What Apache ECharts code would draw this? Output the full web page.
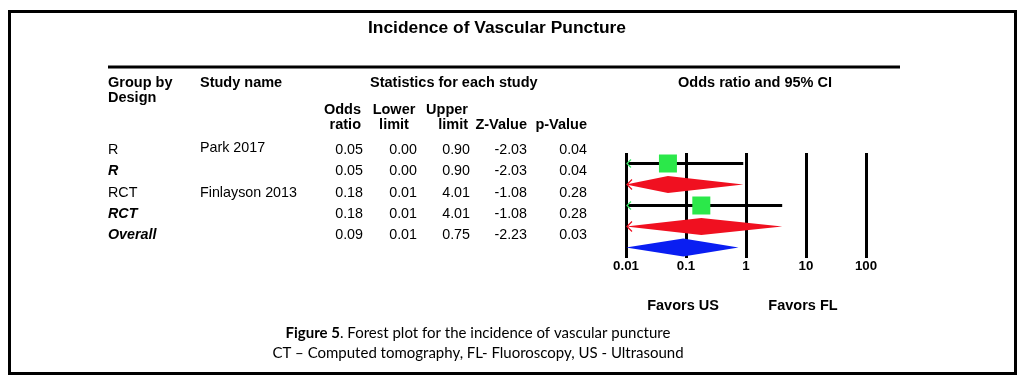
<!DOCTYPE html>
<html>
<head>
<meta charset="utf-8">
<script src="https://cdn.jsdelivr.net/npm/echarts@6/dist/echarts.min.js"></script>
<style>
html,body{margin:0;padding:0;background:#fff;}
#chart{width:1024px;height:384px;}
</style>
</head>
<body>
<div id="chart"></div>
<script>
// ---- data ----
const groupLabels = ['R', 'R', 'RCT', 'RCT', 'Overall'];
const studyNames = ['Park 2017', '', 'Finlayson 2013', '', ''];
const rowKinds = ['study', 'subtotal', 'study', 'subtotal', 'overall'];
const oddsRatio = [0.05, 0.05, 0.18, 0.18, 0.09];
const lowerLimit = [0.00, 0.00, 0.01, 0.01, 0.01];
const upperLimit = [0.90, 0.90, 4.01, 4.01, 0.75];
const zValue = [-2.03, -2.03, -1.08, -1.08, -2.23];
const pValue = [0.04, 0.04, 0.28, 0.28, 0.03];
const truncatedLow = [true, true, true, true, false];
const axisTickLabels = ['0.01', '0.1', '1', '10', '100'];
const titleText = 'Incidence of Vascular Puncture';
const favorsLeft = 'Favors US';
const favorsRight = 'Favors FL';

// ---- layout ----
const AX_MIN = 0.01, AX_MAX = 100;
const FONT = 'Arial, "Liberation Sans", sans-serif';
const rowTextY = [150, 171.5, 193, 214, 235];
const colRight = [363, 417, 470, 527, 587];

const chart = echarts.init(document.getElementById('chart'), null, {renderer: 'canvas'});

const graphics = [];
function txt(x, y, s, opts) {
  graphics.push({
    type: 'text', x: x, y: y, silent: true,
    style: Object.assign({
      text: s, fill: '#000', font: 'normal 14px ' + FONT,
      textAlign: 'left', textVerticalAlign: 'middle'
    }, opts || {})
  });
}
// frame
graphics.push({type: 'rect', shape: {x: 9.5, y: 11.5, width: 1006, height: 362},
  style: {fill: 'none', stroke: '#000', lineWidth: 3}, silent: true});
// title
txt(497, 28, titleText, {font: 'bold 17.4px ' + FONT, textAlign: 'center'});
// rule
graphics.push({type: 'line', shape: {x1: 108, y1: 67, x2: 900, y2: 67},
  style: {stroke: '#000', lineWidth: 3}, silent: true});
// headers
const HB = 'bold 14.5px ' + FONT;
txt(108, 83, 'Group by', {font: HB});
txt(108, 98, 'Design', {font: HB});
txt(200, 83, 'Study name', {font: HB});
txt(370, 83, 'Statistics for each study', {font: HB});
txt(755, 83, 'Odds ratio and 95% CI', {font: HB, textAlign: 'center'});
txt(361, 110, 'Odds', {font: HB, textAlign: 'right'});
txt(361, 125, 'ratio', {font: HB, textAlign: 'right'});
txt(394, 110, 'Lower', {font: HB, textAlign: 'center'});
txt(394, 125, 'limit', {font: HB, textAlign: 'center'});
txt(468, 110, 'Upper', {font: HB, textAlign: 'right'});
txt(468, 125, 'limit', {font: HB, textAlign: 'right'});
txt(527, 125, 'Z-Value', {font: HB, textAlign: 'right'});
txt(587, 125, 'p-Value', {font: HB, textAlign: 'right'});
// rows
for (let i = 0; i < groupLabels.length; i++) {
  const y = rowTextY[i];
  const isStudy = rowKinds[i] === 'study';
  txt(108, y, groupLabels[i], {font: (isStudy ? 'normal ' : 'italic bold ') + '14.3px ' + FONT});
  if (studyNames[i]) txt(200, i === 0 ? y - 2 : y, studyNames[i], {font: 'normal 14.3px ' + FONT});
  const vals = [oddsRatio[i], lowerLimit[i], upperLimit[i], zValue[i], pValue[i]];
  vals.forEach((v, k) => txt(colRight[k], y, v.toFixed(2), {textAlign: 'right', font: 'normal 14.3px ' + FONT}));
}
// favors
txt(683, 306, favorsLeft, {font: 'bold 14.5px ' + FONT, textAlign: 'center'});
txt(803, 306, favorsRight, {font: 'bold 14.5px ' + FONT, textAlign: 'center'});
// caption
const CAP = '"Lato", "DejaVu Sans", sans-serif';
graphics.push({
  type: 'text', x: 478, y: 333, silent: true,
  style: {
    text: '{b|Figure 5}{n|. Forest plot for the incidence of vascular puncture}',
    textAlign: 'center', textVerticalAlign: 'middle',
    rich: {
      b: {font: 'bold 15px ' + CAP, fill: '#000'},
      n: {font: 'normal 15px ' + CAP, fill: '#000'}
    }
  }
});
txt(478, 353, 'CT \u2013 Computed tomography, FL- Fluoroscopy, US - Ultrasound',
  {font: 'normal 15px ' + CAP, textAlign: 'center'});

const COLORS = {study: '#2be84a', subtotal: '#f01020', overall: '#0a1ef2'};

const seriesData = oddsRatio.map((v, i) => [v, lowerLimit[i], upperLimit[i], i]);

function renderItem(params, api) {
  const i = api.value(3);
  const kind = rowKinds[i];
  const or = api.value(0);
  const lo = Math.max(api.value(1), AX_MIN);
  const hi = Math.min(api.value(2), AX_MAX);
  const pC = api.coord([or, i]);
  const pL = api.coord([lo, i]);
  const pH = api.coord([hi, i]);
  const children = [];
  const col = COLORS[kind];
  if (kind === 'study') {
    children.push({type: 'line', shape: {x1: pL[0], y1: pL[1], x2: pH[0], y2: pH[1]},
      style: {stroke: '#000', lineWidth: 3}});
    const s = 18;
    children.push({type: 'rect', shape: {x: pC[0] - s / 2, y: pC[1] - s / 2, width: s, height: s},
      style: {fill: col}});
  } else {
    const h = kind === 'overall' ? 9 : 8.5;
    children.push({type: 'polygon', shape: {points: [[pL[0], pL[1]], [pC[0], pC[1] - h], [pH[0], pH[1]], [pC[0], pC[1] + h]]},
      style: {fill: col}});
  }
  if (truncatedLow[i]) {
    const a = kind === 'study' ? 4 : 5;
    children.push({type: 'polyline', shape: {points: [[pL[0] + a + 1, pL[1] - a], [pL[0] + 1, pL[1]], [pL[0] + a + 1, pL[1] + a]]},
      style: {stroke: kind === 'study' ? '#3ce86a' : '#f01020', lineWidth: 1.2, fill: 'none'}});
  }
  return {type: 'group', children: children};
}

chart.setOption({
  animation: false,
  backgroundColor: '#fff',
  grid: {left: 626, top: 153, width: 240, height: 105, containLabel: false},
  xAxis: {
    type: 'log', logBase: 10, min: AX_MIN, max: AX_MAX,
    axisLine: {show: false}, axisTick: {show: false},
    splitLine: {show: true, lineStyle: {color: '#000', width: 3}},
    axisLabel: {
      margin: 2, color: '#000', fontFamily: FONT, fontWeight: 'bold', fontSize: 13.3,
      formatter: function (v) {
        const idx = Math.round(Math.log10(v) - Math.log10(AX_MIN));
        return axisTickLabels[idx] !== undefined ? axisTickLabels[idx] : '';
      }
    }
  },
  yAxis: {
    type: 'value', min: -0.5, max: 4.5, inverse: true, show: false,
    splitLine: {show: false}
  },
  series: [{
    type: 'custom', renderItem: renderItem, data: seriesData,
    encode: {x: 0, y: 3}, clip: false, z: 5
  }],
  graphic: {elements: graphics}
});
</script>
</body>
</html>
